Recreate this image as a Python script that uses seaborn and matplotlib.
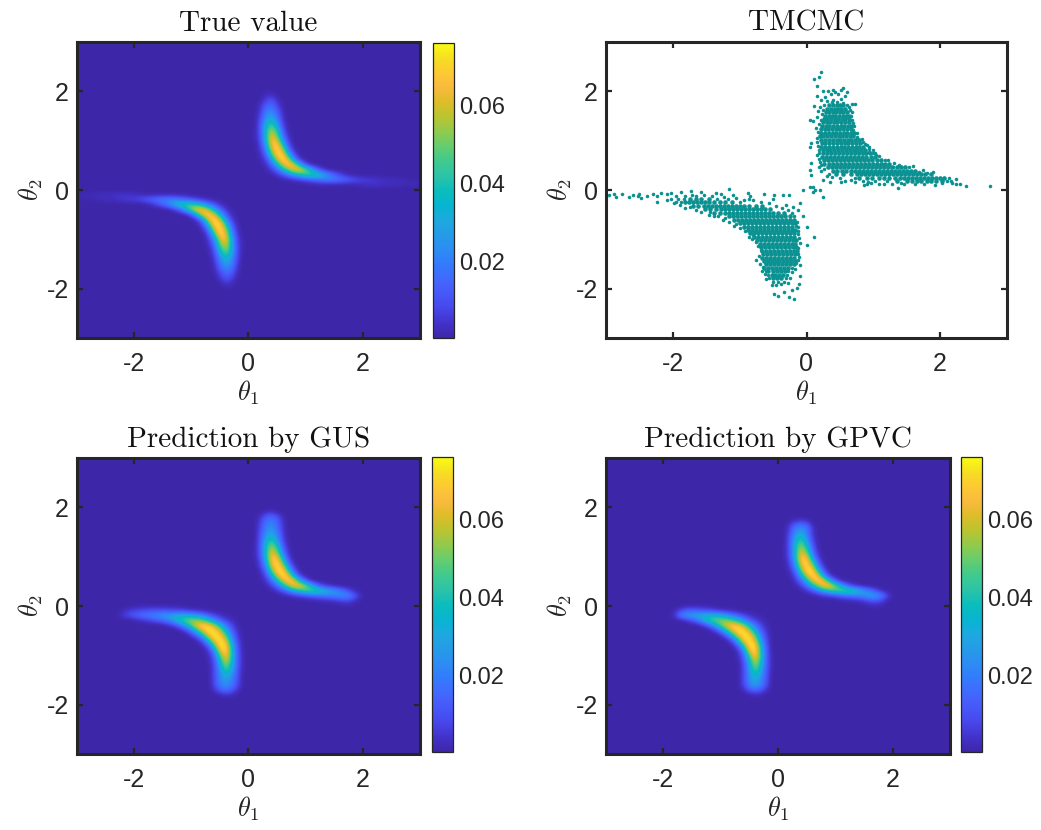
import numpy as np
import pandas as pd
import matplotlib
matplotlib.use("Agg")
import matplotlib.pyplot as plt
from matplotlib.colors import LinearSegmentedColormap
import seaborn as sns

# densities, in units of 0.001, on a 0.1 grid
# "upper" rows: y = 0, 0.1, 0.2 ... each row starts at x = 0 and goes right
# "lower" rows: y = 0, -0.1, -0.2 ... each row starts at x = 0 and goes left
true_upper = [
    [0],
    [0, 0, 0, 0, 0, 0, 0, 0, 0, 0, 0, 1, 1, 1, 1, 1, 1, 1, 1, 2, 3, 4, 4, 4, 3, 3, 3, 2, 2, 2, 1],
    [0, 0, 0, 0, 0, 0, 1, 2, 4, 6, 9, 12, 16, 19, 21, 20, 18, 15, 12, 9, 7, 6, 5, 4, 3, 3, 2, 2, 1, 1, 1],
    [0, 0, 0, 0, 1, 4, 10, 18, 28, 37, 44, 46, 42, 33, 23, 14, 8, 3, 1],
    [0, 0, 0, 1, 5, 14, 30, 50, 66, 68, 54, 32, 15, 5, 1],
    [0, 0, 0, 3, 12, 32, 58, 74, 64, 34, 10, 2],
    [0, 0, 1, 6, 24, 54, 76, 62, 24, 5, 1],
    [0, 0, 2, 12, 40, 72, 74, 36, 9, 1],
    [0, 0, 4, 18, 54, 76, 58, 18, 3],
    [0, 0, 5, 25, 64, 74, 40, 9, 1],
    [0, 1, 7, 32, 68, 62, 24, 5],
    [0, 1, 8, 34, 64, 50, 16, 3],
    [0, 1, 9, 35, 58, 40, 11, 1],
    [0, 0, 9, 31, 47, 30, 7, 1],
    [0, 0, 8, 26, 36, 22, 5],
    [0, 0, 6, 22, 28, 17, 3],
    [0, 0, 4, 17, 22, 12, 2],
    [0, 0, 3, 12, 16, 8, 1],
    [0, 0, 1, 7, 11, 4],
    [0, 0, 0, 3, 4, 1],
    [0, 0, 0, 1, 1],
]
true_lower = [
    [0],
    [0, 0, 0, 0, 0, 0, 0, 0, 0, 0, 0, 1, 1, 1, 1, 1, 1, 1, 1, 2, 3, 4, 4, 4, 3, 3, 3, 2, 2, 2, 1],
    [0, 0, 0, 0, 0, 0, 1, 2, 4, 7, 10, 13, 17, 20, 21, 20, 18, 15, 12, 9, 7, 6, 5, 4, 3, 3, 2, 2, 1, 1, 1],
    [0, 0, 0, 0, 1, 4, 10, 19, 29, 38, 44, 46, 41, 32, 22, 14, 8, 3, 1],
    [0, 0, 0, 1, 5, 14, 31, 51, 68, 70, 54, 32, 15, 5, 1],
    [0, 0, 0, 3, 12, 33, 60, 75, 66, 34, 10, 2],
    [0, 0, 1, 6, 25, 56, 76, 62, 24, 5, 1],
    [0, 0, 2, 13, 42, 74, 74, 36, 9, 1],
    [0, 0, 4, 19, 56, 76, 58, 18, 3],
    [0, 0, 5, 26, 66, 74, 40, 9, 1],
    [0, 1, 7, 33, 70, 60, 22, 5],
    [0, 1, 8, 34, 64, 48, 15, 3],
    [0, 1, 9, 35, 57, 38, 10, 1],
    [0, 0, 9, 31, 46, 28, 7, 1],
    [0, 0, 8, 26, 35, 21, 5],
    [0, 0, 6, 22, 28, 16, 3],
    [0, 0, 4, 17, 22, 12, 2],
    [0, 0, 3, 12, 15, 7, 1],
    [0, 0, 1, 7, 11, 4],
    [0, 0, 0, 3, 4, 1],
    [0, 0, 0, 1, 1],
]
gus_upper = [
    [0, 0, 0, 0, 0, 0, 0, 0, 0, 0, 0, 0, 0, 0, 0, 0, 1, 1, 1],
    [0, 0, 0, 0, 0, 0, 0, 0, 0, 0, 0, 1, 1, 2, 3, 4, 6, 8, 6, 2],
    [0, 0, 0, 0, 0, 0, 1, 2, 5, 7, 10, 13, 16, 18, 20, 22, 24, 24, 19, 8, 1],
    [0, 0, 0, 0, 1, 4, 10, 19, 30, 39, 46, 48, 46, 38, 32, 26, 20, 12, 5, 1],
    [0, 0, 0, 1, 6, 15, 32, 52, 68, 70, 54, 34, 16, 7, 3, 1],
    [0, 0, 0, 4, 14, 34, 58, 74, 66, 34, 12, 2],
    [0, 0, 1, 7, 27, 56, 76, 66, 28, 6, 1],
    [0, 0, 2, 14, 44, 72, 76, 40, 11, 1, 0, 0, 0, 1, 1],
    [0, 0, 5, 21, 58, 76, 60, 22, 4],
    [0, 0, 7, 28, 66, 74, 42, 11, 1, 0, 0, 0, 0, 0, 0, 0, 1],
    [0, 1, 9, 33, 68, 64, 26, 5],
    [0, 1, 10, 35, 62, 50, 18, 3],
    [0, 1, 10, 35, 55, 40, 12, 2],
    [0, 0, 10, 31, 45, 30, 8, 1, 0, 0, 0, 0, 1],
    [0, 0, 9, 26, 35, 23, 7],
    [0, 0, 8, 22, 28, 19, 5],
    [0, 0, 7, 19, 24, 16, 5],
    [0, 0, 6, 16, 20, 14, 4],
    [0, 0, 3, 11, 15, 10, 2],
    [0, 0, 0, 2, 3, 1],
]
gus_lower = [
    [0, 0, 0, 0, 0, 0, 0, 0, 0, 0, 0, 0, 1, 1, 1, 1, 1, 1, 1, 1],
    [0, 0, 0, 0, 0, 0, 0, 1, 2, 3, 4, 6, 7, 8, 9, 10, 10, 10, 9, 8, 7, 5, 2],
    [0, 0, 0, 1, 2, 4, 8, 13, 20, 26, 30, 33, 33, 31, 29, 27, 24, 21, 19, 16, 12, 9, 5, 1],
    [0, 0, 1, 3, 7, 13, 24, 36, 48, 54, 54, 48, 40, 30, 21, 15, 11, 8, 5, 3, 1],
    [0, 0, 2, 8, 20, 37, 56, 70, 74, 66, 48, 30, 16, 7, 3],
    [0, 0, 4, 14, 32, 56, 74, 76, 64, 40, 20, 7, 1, 0, 0, 0, 0, 0, 0, 0, 1],
    [0, 0, 6, 22, 48, 72, 76, 64, 36, 15, 5],
    [0, 1, 8, 28, 62, 76, 68, 36, 12, 2],
    [0, 1, 11, 37, 74, 76, 44, 14, 3, 0, 0, 0, 0, 0, 0, 0, 0, 0, 0, 1],
    [0, 1, 12, 41, 76, 64, 24, 5],
    [0, 2, 13, 42, 72, 46, 13, 2],
    [0, 2, 13, 40, 64, 34, 10, 1],
    [0, 2, 13, 36, 55, 28, 8, 1],
    [0, 1, 12, 32, 45, 24, 8],
    [0, 1, 11, 26, 35, 22, 8],
    [0, 1, 10, 22, 28, 21, 8],
    [0, 1, 9, 20, 24, 19, 7],
    [0, 0, 5, 13, 17, 13, 4],
    [0, 0, 1, 3, 4, 2],
]
gpvc_upper = [
    [0, 0, 0, 0, 0, 0, 0, 0, 0, 0, 0, 0, 0, 0, 0, 1, 2, 2, 2],
    [0, 0, 0, 0, 0, 0, 0, 0, 0, 0, 0, 1, 1, 2, 3, 5, 9, 11, 7, 2],
    [0, 0, 0, 0, 0, 0, 1, 2, 4, 6, 9, 13, 16, 19, 21, 25, 30, 29, 22, 8, 1],
    [0, 0, 0, 0, 1, 4, 10, 19, 30, 40, 48, 50, 50, 44, 35, 27, 18, 9, 3],
    [0, 0, 0, 1, 6, 15, 32, 52, 70, 72, 52, 32, 15, 6, 2],
    [0, 0, 0, 4, 14, 34, 60, 75, 66, 34, 11, 2],
    [0, 0, 1, 7, 27, 56, 76, 66, 26, 5, 1],
    [0, 0, 2, 14, 44, 74, 76, 38, 10, 1, 0, 0, 0, 0, 0, 0, 1, 1],
    [0, 0, 5, 21, 58, 76, 58, 20, 3],
    [0, 0, 7, 28, 68, 74, 40, 10, 1],
    [0, 1, 9, 33, 70, 62, 24, 5],
    [0, 1, 9, 35, 62, 48, 16, 3],
    [0, 1, 10, 35, 56, 38, 12, 1],
    [0, 0, 10, 31, 47, 29, 8, 1],
    [0, 0, 9, 27, 37, 23, 6],
    [0, 0, 7, 22, 28, 20, 5],
    [0, 0, 5, 17, 21, 17, 4],
    [0, 0, 1, 5, 7, 5],
]
gpvc_lower = [
    [0, 0, 0, 0, 0, 0, 0, 0, 0, 0, 0, 0, 1, 1, 1, 1, 1],
    [0, 0, 0, 0, 0, 0, 0, 1, 2, 3, 4, 6, 8, 10, 12, 13, 12, 7, 2],
    [0, 0, 0, 1, 2, 4, 8, 13, 19, 26, 32, 35, 36, 34, 32, 30, 27, 20, 5],
    [0, 0, 1, 3, 7, 13, 24, 36, 46, 52, 54, 50, 42, 30, 18, 9, 4],
    [0, 0, 2, 8, 18, 35, 54, 68, 72, 64, 46, 28, 14, 5],
    [0, 0, 4, 13, 30, 54, 74, 76, 62, 38, 18, 6],
    [0, 0, 6, 20, 48, 72, 76, 62, 34, 13, 3],
    [0, 0, 8, 26, 60, 76, 68, 34, 10, 1],
    [0, 0, 10, 35, 74, 76, 42, 13, 2],
    [0, 0, 11, 39, 76, 64, 22, 4],
    [0, 1, 12, 42, 74, 46, 13, 2],
    [0, 1, 12, 40, 64, 34, 10, 1],
    [0, 1, 12, 36, 56, 28, 8],
    [0, 1, 11, 32, 47, 25, 8],
    [0, 0, 10, 27, 38, 24, 8],
    [0, 0, 10, 23, 32, 23, 8],
    [0, 0, 9, 21, 28, 20, 7],
    [0, 0, 4, 12, 15, 12, 3],
    [0, 0, 0, 2, 3, 1],
]

# TMCMC samples: solid parts as (y, x list), loose ones as (x, y)
core_upper = [
    (1.72, [.34, .39, .45, .50, .55]),
    (1.65, [.31, .37, .42, .47, .52, .58]),
    (1.58, [.29, .34, .39, .44, .50, .55, .60]),
    (1.51, [.27, .33, .38, .43, .48, .54, .59, .63]),
    (1.44, [.26, .31, .37, .42, .47, .53, .58, .64]),
    (1.37, [.25, .30, .35, .41, .46, .52, .57, .63]),
    (1.30, [.23, .29, .34, .40, .45, .51, .56, .62, .67]),
    (1.23, [.21, .27, .32, .38, .44, .49, .55, .60, .66]),
    (1.16, [.22, .28, .33, .39, .44, .50, .56, .61, .67, .71]),
    (1.09, [.20, .25, .31, .37, .42, .48, .53, .59, .65, .70]),
    (1.02, [.22, .28, .33, .39, .45, .50, .56, .62, .67, .73, .78]),
    (.95, [.23, .28, .34, .40, .45, .51, .57, .62, .68, .74, .80]),
    (.88, [.22, .28, .33, .39, .45, .51, .56, .62, .68, .74, .79, .85]),
    (.81, [.24, .30, .35, .41, .47, .53, .59, .65, .71, .76, .82, .88]),
    (.74, [.24, .30, .36, .42, .48, .54, .60, .66, .72, .78, .84, .89, .95]),
    (.67, [.23, .29, .35, .41, .47, .53, .59, .65, .71, .77, .83, .89, .96, 1.02]),
    (.60, [.26, .32, .38, .44, .50, .56, .62, .68, .74, .80, .86, .92, .98, 1.05, 1.12]),
    (.53, [.26, .33, .39, .45, .51, .57, .63, .69, .75, .81, .87, .93, .99, 1.05, 1.11, 1.18, 1.24]),
    (.46, [.32, .38, .44, .50, .56, .62, .68, .74, .80, .86, .92, .98, 1.04, 1.10, 1.16, 1.22, 1.28, 1.35, 1.41, 1.48]),
    (.39, [.40, .46, .53, .59, .66, .72, .78, .84, .90, .96, 1.02, 1.08, 1.14, 1.20, 1.26, 1.32, 1.38, 1.44, 1.50, 1.56, 1.62]),
    (.32, [.44, .55, .66, .75, .82, .88, .94, 1.00, 1.06, 1.12, 1.18, 1.24, 1.30, 1.36, 1.42, 1.48, 1.54, 1.60, 1.66, 1.72, 1.78, 1.86]),
    (.25, [.78, .90, .98, 1.08, 1.16, 1.24, 1.32, 1.40, 1.46, 1.52, 1.58, 1.64, 1.70, 1.76, 1.82, 1.88, 1.94, 2.00, 2.06]),
    (.18, [1.36, 1.50, 1.58, 1.66, 1.72, 1.80, 1.86, 1.94, 2.02]),
]
core_lower = [
    (-1.79, [-.50, -.44, -.38]),
    (-1.72, [-.52, -.47, -.41, -.35]),
    (-1.65, [-.57, -.50, -.44, -.38, -.32]),
    (-1.58, [-.63, -.57, -.52, -.46, -.40, -.34, -.28]),
    (-1.51, [-.61, -.55, -.49, -.43, -.37, -.31, -.25, -.19]),
    (-1.44, [-.64, -.58, -.52, -.46, -.41, -.35, -.29, -.23, -.17]),
    (-1.37, [-.66, -.60, -.54, -.49, -.43, -.37, -.31, -.25, -.19]),
    (-1.30, [-.65, -.59, -.53, -.47, -.41, -.35, -.29, -.23, -.17]),
    (-1.23, [-.67, -.61, -.55, -.49, -.43, -.37, -.31, -.25, -.19, -.14]),
    (-1.16, [-.68, -.62, -.56, -.50, -.44, -.38, -.32, -.26, -.20, -.15]),
    (-1.09, [-.70, -.64, -.58, -.52, -.46, -.40, -.34, -.28, -.22, -.17]),
    (-1.02, [-.74, -.68, -.62, -.56, -.50, -.44, -.38, -.32, -.26, -.20, -.15]),
    (-.95, [-.78, -.72, -.66, -.60, -.54, -.48, -.42, -.36, -.30, -.24, -.18]),
    (-.88, [-.84, -.78, -.72, -.66, -.60, -.54, -.48, -.42, -.36, -.30, -.24, -.18]),
    (-.81, [-.88, -.82, -.76, -.70, -.64, -.58, -.52, -.46, -.40, -.34, -.28, -.22, -.17]),
    (-.74, [-.94, -.88, -.82, -.76, -.70, -.64, -.58, -.52, -.46, -.40, -.34, -.28, -.22]),
    (-.67, [-1.00, -.94, -.88, -.82, -.76, -.70, -.64, -.58, -.52, -.46, -.40, -.34, -.28, -.22, -.17]),
    (-.60, [-1.08, -1.02, -.96, -.90, -.84, -.78, -.72, -.66, -.60, -.54, -.48, -.42, -.36, -.30, -.24, -.19]),
    (-.53, [-1.16, -1.10, -1.04, -.98, -.92, -.86, -.80, -.74, -.68, -.62, -.56, -.50, -.44, -.38, -.32, -.24]),
    (-.46, [-1.38, -1.30, -1.22, -1.16, -1.10, -1.04, -.98, -.92, -.86, -.80, -.74, -.68, -.62, -.56, -.50, -.42, -.34]),
    (-.39, [-1.52, -1.44, -1.36, -1.28, -1.22, -1.16, -1.10, -1.04, -.98, -.92, -.86, -.80, -.74, -.68, -.62, -.54]),
    (-.32, [-1.70, -1.62, -1.54, -1.48, -1.42, -1.36, -1.30, -1.24, -1.18, -1.12, -1.06, -1.00, -.94, -.86, -.76, -.66]),
    (-.25, [-1.82, -1.76, -1.70, -1.64, -1.58, -1.52, -1.46, -1.38, -1.30, -1.22, -1.12]),
    (-.18, [-1.74, -1.66, -1.58, -1.46]),
]
loose_upper = [
    (.22, 2.40), (.18, 2.29), (.11, 2.24), (.16, 2.10), (.55, 2.07), (.52, 2.03), (.25, 2.00),
    (.32, 2.01), (.42, 1.98), (.36, 1.95), (.47, 1.94), (.15, 1.90), (.28, 1.88), (.58, 1.90),
    (.52, 1.85), (.40, 1.83), (.22, 1.82), (.72, 1.75), (.68, 1.75), (.11, 1.71), (.20, 1.68),
    (.64, 1.68), (.17, 1.60), (.68, 1.58), (.05, 1.42), (.10, 1.39), (.68, 1.42), (.16, 1.48),
    (.70, 1.22), (.14, 1.25), (.07, .95), (.05, .87), (.16, .98), (.94, .88), (.85, .98),
    (.75, 1.08), (.90, .92), (1.04, .71), (.94, .78), (1.00, .76), (.16, .70), (.07, .54),
    (.05, .41), (.18, .46), (.07, .30), (.22, .38), (.25, .20), (.35, .17), (.30, .28),
    (.52, .17), (.72, .16), (.86, .10), (.96, .14), (.10, .07), (.05, .07), (.20, .01),
    (.09, -.05), (.25, -.14), (.12, -.01), (-.05, .00), (1.14, .52), (1.22, .60), (1.30, .46),
    (1.37, .05), (.90, .12), (1.16, .12), (1.46, .12), (1.60, .48), (1.74, .40), (1.90, .36),
    (2.05, .24), (2.16, .19), (2.24, .22), (2.30, .13), (2.24, .12), (2.39, .09), (2.75, .09),
    (.30, 1.80), (.38, 1.78), (.46, 1.79), (.54, 1.77), (.60, 1.73), (.26, 1.73), (.65, 1.62),
    (.25, 1.62), (.23, 1.54), (.67, 1.50), (.21, 1.42), (.69, 1.36), (.18, 1.33), (.71, 1.30),
    (.17, 1.17), (.75, 1.16), (.15, 1.06), (.76, 1.05), (.83, 1.03), (.17, .90), (.88, .94),
    (.18, .82), (.93, .84), (.99, .82), (.19, .74), (1.02, .74), (.18, .63), (1.08, .68),
    (.20, .57), (1.17, .60), (.21, .50), (1.31, .54), (1.38, .50), (.26, .42), (1.54, .46),
    (.33, .33), (1.68, .36), (.38, .27), (1.80, .34), (.50, .24), (.58, .19), (.66, .20),
    (.72, .24), (.84, .19), (.92, .17), (1.08, .13), (1.28, .13), (1.42, .15), (1.62, .12),
    (1.76, .12), (1.92, .11), (2.02, .14), (2.13, .24), (.40, 2.03), (.60, 1.98),
    (1.02, .18), (1.20, .18), (2.10, .18), (2.18, .15),
]
loose_lower = [
    (-3.00, -.14), (-2.96, -.10), (-2.88, -.08), (-2.85, -.15), (-2.76, -.09), (-2.66, -.15),
    (-2.60, -.10), (-2.50, -.09), (-2.48, -.17), (-2.52, -.13), (-2.38, -.12), (-2.30, -.09),
    (-2.24, -.12), (-2.18, -.07), (-2.23, -.25), (-2.09, -.08), (-2.02, -.07), (-2.08, -.20),
    (-1.98, -.27), (-1.88, -.05), (-1.73, -.02), (-1.72, -.10), (-1.58, -.05), (-1.36, -.07),
    (-1.16, .03), (-1.28, -.08), (-1.10, -.11), (-.88, -.07), (-.85, -.12), (-.63, -.08),
    (-.48, -.11), (-.35, -.10), (-.26, -.11), (-.09, -.26), (-.13, -.40), (-.05, -.53),
    (-.12, -.75), (.00, -.76), (.11, -.96), (.00, -1.12), (-.10, -1.08), (-.11, -1.36),
    (-.10, -1.52), (-.10, -1.75), (-.11, -1.90), (-.14, -1.98), (-.19, -2.21), (-.26, -2.17),
    (-.43, -2.14), (-.49, -2.10), (-.33, -2.06), (-.22, -2.02), (-.52, -1.92), (-.60, -1.80),
    (-.62, -1.70), (-.65, -1.56), (-.75, -1.41), (-.68, -1.22), (-.80, -.91), (-.93, -.75),
    (-1.05, -.68), (-1.38, -.53), (-1.44, -.44), (-1.75, -.34), (-1.22, -.56),
    (-.45, -1.93), (-.38, -1.91), (-.28, -1.88), (-.24, -1.78), (-.22, -1.66), (-.17, -1.60),
    (-.66, -1.64), (-.70, -1.49), (-.15, -1.48), (-.13, -1.42), (-.71, -1.33), (-.12, -1.30),
    (-.73, -1.14), (-.12, -1.18), (-.76, -1.05), (-.11, -.98), (-.81, -1.00), (-.13, -.90),
    (-.86, -.95), (-.12, -.84), (-.92, -.84), (-.16, -.72), (-.99, -.78), (-.14, -.64),
    (-1.08, -.72), (-.18, -.52), (-1.16, -.64), (-.22, -.46), (-1.25, -.60), (-.28, -.40),
    (-1.32, -.53), (-.36, -.36), (-1.46, -.50), (-.46, -.33), (-1.58, -.44), (-.56, -.27),
    (-1.66, -.40), (-.68, -.25), (-1.82, -.36), (-.80, -.20), (-1.90, -.31), (-.94, -.21),
    (-.86, -.18), (-1.06, -.17), (-1.24, -.14), (-1.42, -.13), (-1.54, -.11), (-1.66, -.12),
    (-1.82, -.12), (-1.96, -.13), (-.20, -.34), (-.30, -.30), (-.50, -.18),
    (-1.96, -.25), (-1.88, -.25), (-1.00, -.25), (-2.02, -.18), (-1.92, -.18), (-1.84, -.18),
    (-1.34, -.18), (-1.18, -.18), (-.50, -1.86), (-.42, -1.86), (-.33, -1.86), (-.56, -1.79),
    (-.31, -1.79), (-.58, -1.72), (-.29, -1.72), (-.61, -1.65), (-.27, -1.65), (-.22, -1.58),
]

cbar_ticks = [0.02, 0.04, 0.06]
axis_ticks = [-2, 0, 2]
density_min = 0.0003
density_max = 0.0762

# parula colours
parula = [
    (.2422, .1504, .6603), (.2647, .1978, .7952), (.2803, .2782, .9221), (.2795, .3447, .9717),
    (.2602, .4123, .9952), (.1963, .4847, .9892), (.1764, .5499, .9520), (.1460, .6091, .9079),
    (.1113, .6635, .8763), (.0297, .7082, .8163), (.0433, .7411, .7394), (.1717, .7670, .6554),
    (.2470, .7918, .5567), (.3909, .8029, .4354), (.5616, .7942, .3045), (.7242, .7698, .1910),
    (.8634, .7406, .1596), (.9728, .7298, .2394), (.9952, .7861, .1990), (.9626, .8705, .1309),
    (.9769, .9839, .0805),
]
cmap = LinearSegmentedColormap.from_list("parula", parula, N=256)

W, H = 1041, 830
DARK = "#262626"


def build_grid(upper, lower):
    # 61 x 61 cells from -3 to 3, centre cell is (0, 0)
    grid = np.zeros((61, 61))
    for i, row in enumerate(upper):
        for j, v in enumerate(row):
            grid[30 + i, 30 + j] = v * 0.001
    for i, row in enumerate(lower):
        for j, v in enumerate(row):
            grid[30 - i, 30 - j] = v * 0.001
    return grid


def place(left, top, right, bottom):
    return fig.add_axes([left / W, 1 - bottom / H, (right - left) / W, (bottom - top) / H])


def finish_axes(ax, title):
    ax.set_xlim(-3, 3)
    ax.set_ylim(-3, 3)
    ax.set_xticks(axis_ticks)
    ax.set_yticks(axis_ticks)
    ax.tick_params(direction="in", length=4, width=1.6, top=True, right=True, bottom=True, left=True,
                   colors=DARK, labelsize=18)
    ax.tick_params(axis="x", pad=10)
    ax.tick_params(axis="y", pad=6)
    for spine in ax.spines.values():
        spine.set_visible(True)
        spine.set_linewidth(2.2)
        spine.set_color(DARK)
    ax.set_xlabel(r"$\theta_1$", fontsize=19, color=DARK, labelpad=2)
    ax.set_ylabel(r"$\theta_2$", fontsize=19, color=DARK, labelpad=1)
    ax.set_title(title, fontsize=21, family="cmr10", color="#111111", pad=8)


def density_panel(box, cbox, upper, lower, title):
    ax = place(*box)
    im = ax.imshow(build_grid(upper, lower), origin="lower", extent=[-3.05, 3.05, -3.05, 3.05], cmap=cmap,
                   vmin=density_min, vmax=density_max, interpolation="bicubic", aspect="auto")
    finish_axes(ax, title)
    cax = place(*cbox)
    cb = fig.colorbar(im, cax=cax, ticks=cbar_ticks, format="%.2f")
    cb.ax.tick_params(direction="in", length=3, width=0.8, labelsize=17, colors=DARK, pad=4)
    cb.outline.set_linewidth(0.9)
    cb.outline.set_edgecolor(DARK)
    return ax


sns.set_theme(style="white")
plt.rcParams["mathtext.fontset"] = "cm"
plt.rcParams["font.family"] = ["Liberation Sans", "DejaVu Sans"]
plt.rcParams["axes.unicode_minus"] = False

fig = plt.figure(figsize=(W / 100, H / 100), dpi=100)

density_panel((77, 42, 420, 338), (433, 43, 454, 338), true_upper, true_lower, "True value")
density_panel((77, 458, 420, 754), (432, 457, 453, 752), gus_upper, gus_lower, "Prediction by GUS")
density_panel((606, 458, 950, 754), (961, 457, 982, 752), gpvc_upper, gpvc_lower, "Prediction by GPVC")

core_x, core_y = [], []
for y, row in core_upper + core_lower:
    core_x += row
    core_y += [y] * len(row)
core = pd.DataFrame({"theta1": core_x, "theta2": core_y})
loose = pd.DataFrame(loose_upper + loose_lower, columns=["theta1", "theta2"])

ax = place(606, 42, 1007, 338)
sns.scatterplot(data=core, x="theta1", y="theta2", ax=ax, color="#0b9191", s=11, linewidth=0, marker="o")
sns.scatterplot(data=loose, x="theta1", y="theta2", ax=ax, color="#0b9191", s=6.5, linewidth=0, marker="o")
finish_axes(ax, "TMCMC")

fig.savefig("out.png", dpi=100)
